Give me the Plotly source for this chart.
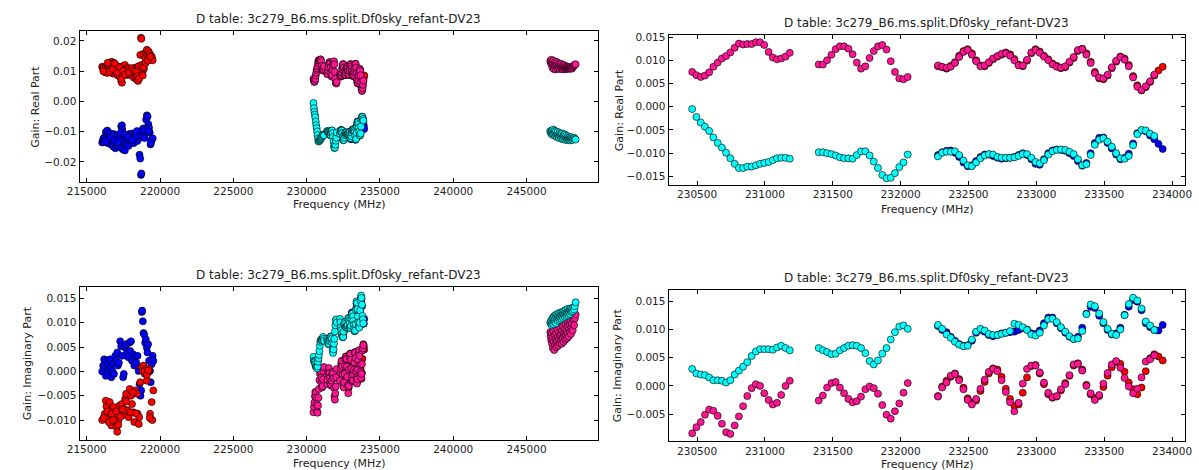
import plotly.graph_objects as go

TITLE = "D table: 3c279_B6.ms.split.Df0sky_refant-DV23"

# ---------------- spw at 230.5-234 GHz (shown in all four panels) ----------------
freq_a = [230464, 230495, 230527, 230558, 230589, 230620, 230652, 230683, 230714, 230745,
          230777, 230808, 230839, 230870, 230902, 230933, 230964, 230995, 231027, 231058,
          231089, 231120, 231152, 231183]
freq_b = [231396, 231427, 231458, 231490, 231521, 231552, 231583, 231615, 231646, 231677,
          231708, 231740, 231771, 231802, 231833, 231865, 231896, 231927, 231958, 231990,
          232021, 232052]
freq_c = [232275, 232306, 232338, 232369, 232400, 232431, 232463, 232494, 232525, 232556,
          232588, 232619, 232650, 232681, 232713, 232744, 232775, 232806, 232838, 232869,
          232900, 232931, 232963, 232994, 233025, 233056, 233088, 233119, 233150, 233181,
          233213, 233244, 233275, 233306, 233338, 233369, 233400, 233431, 233463, 233494,
          233525, 233556, 233588, 233619, 233650, 233681, 233713, 233744, 233775, 233806,
          233838, 233869, 233900, 233931]

pink_real_a = [.0075, .0068, .0064, .0067, .0074, .0086, .0095, .0104, .0109, .0117, .0127, .0136,
               .0134, .0135, .0135, .0139, .0139, .0133, .0118, .0106, .0102, .0104, .0108, .0116]
cyan_real_a = [-.0005, -.0022, -.0034, -.0043, -.0052, -.0066, -.0078, -.0088, -.0099, -.0111,
               -.0123, -.0132, -.0132, -.0129, -.0129, -.0126, -.0123, -.0121, -.0119, -.0115,
               -.0111, -.0110, -.0110, -.0112]
pink_real_b = [.0091, .0091, .0100, .0112, .0124, .0130, .0130, .0125, .0113, .0095, .0082,
               .0087, .0105, .0120, .0130, .0133, .0123, .0098, .0075, .0061, .0059, .0064]
cyan_real_b = [-.0098, -.0098, -.0100, -.0102, -.0105, -.0109, -.0111, -.0111, -.0112, -.0104,
               -.0096, -.0096, -.0105, -.0118, -.0132, -.0147, -.0154, -.0153, -.0143, -.0130,
               -.0120, -.0103]
pink_real_c = [.0089, .0086, .0084, .0086, .0094, .0107, .0118, .0122, .0112, .0098,
               .0087, .0089, .0096, .0104, .0109, .0114, .0115, .0110, .0100, .0089,
               .0089, .0101, .0117, .0122, .0116, .0108, .0100, .0091, .0086, .0084,
               .0087, .0097, .0107, .0122, .0124, .0112, .0094, .0072, .0063, .0061,
               .0069, .0085, .0099, .0107, .0101, .0087, .0063, .0043, .0036, .0044,
               .0055, .0069]
red_real_c = [.0087, .0085, .0082, .0088, .0096, .0110, .0120, .0124, .0115, .0100,
              .0089, .0087, .0094, .0102, .0108, .0112, .0117, .0113, .0103, .0091,
              .0087, .0099, .0115, .0124, .0119, .0110, .0102, .0093, .0088, .0083,
              .0085, .0095, .0105, .0120, .0125, .0115, .0097, .0075, .0061, .0059,
              .0067, .0083, .0097, .0108, .0104, .0090, .0066, .0046, .0035, .0042,
              .0053, .0067, .0078, .0086]
cyan_real_c = [-.0107, -.0099, -.0097, -.0097, -.0096, -.0104, -.0116, -.0126, -.0128, -.0120,
               -.0111, -.0105, -.0102, -.0103, -.0108, -.0110, -.0110, -.0110, -.0109, -.0106,
               -.0102, -.0102, -.0110, -.0119, -.0122, -.0115, -.0103, -.0096, -.0093, -.0092,
               -.0093, -.0097, -.0102, -.0113, -.0126, -.0124, -.0104, -.0082, -.0071, -.0068,
               -.0075, -.0086, -.0100, -.0111, -.0112, -.0106, -.0083, -.0059, -.0050, -.0051,
               -.0058, -.0063]
blue_real_c = [-.0104, -.0098, -.0095, -.0094, -.0099, -.0108, -.0120, -.0128, -.0126, -.0117,
               -.0108, -.0103, -.0103, -.0106, -.0110, -.0112, -.0111, -.0110, -.0108, -.0104,
               -.0100, -.0104, -.0113, -.0123, -.0125, -.0113, -.0100, -.0094, -.0092, -.0093,
               -.0095, -.0100, -.0106, -.0117, -.0127, -.0121, -.0100, -.0078, -.0067, -.0066,
               -.0078, -.0090, -.0103, -.0113, -.0110, -.0101, -.0079, -.0057, -.0051, -.0053,
               -.0062, -.0070, -.0080, -.0091]

cyan_imag_a = [.0030, .0022, .0020, .0019, .0015, .0010, .0010, .0009, .0006, .0010, .0020, .0027,
               .0034, .0042, .0053, .0061, .0065, .0065, .0065, .0064, .0068, .0071, .0067, .0063]
pink_imag_a = [-.0084, -.0073, -.0064, -.0051, -.0042, -.0044, -.0053, -.0067, -.0082, -.0085,
               -.0070, -.0054, -.0036, -.0018, -.0004, .0003, .0000, -.0013, -.0025, -.0033,
               -.0030, -.0016, .0000, .0009]
cyan_imag_b = [.0067, .0063, .0060, .0056, .0057, .0063, .0067, .0071, .0072, .0071, .0067,
               .0058, .0044, .0038, .0045, .0057, .0067, .0082, .0095, .0105, .0107, .0101]
pink_imag_b = [-.0026, -.0017, -.0003, .0005, .0007, -.0003, -.0013, -.0023, -.0029, -.0027,
               -.0019, -.0006, -.0001, -.0004, -.0014, -.0034, -.0051, -.0058, -.0045, -.0031,
               -.0012, .0005]
cyan_imag_c = [.0108, .0101, .0091, .0085, .0078, .0073, .0070, .0071, .0082, .0096,
               .0101, .0098, .0092, .0090, .0090, .0092, .0094, .0097, .0110, .0108,
               .0104, .0099, .0091, .0089, .0094, .0107, .0118, .0119, .0113, .0104,
               .0096, .0088, .0083, .0084, .0097, .0127, .0144, .0141, .0128, .0113,
               .0101, .0092, .0090, .0100, .0125, .0145, .0156, .0151, .0137, .0114,
               .0107, .0099]
blue_imag_c = [.0106, .0099, .0095, .0087, .0080, .0074, .0071, .0072, .0080, .0094,
               .0099, .0096, .0090, .0088, .0090, .0093, .0094, .0095, .0096, .0099,
               .0102, .0100, .0093, .0092, .0098, .0111, .0121, .0121, .0111, .0102,
               .0094, .0087, .0083, .0087, .0103, .0128, .0140, .0138, .0124, .0111,
               .0099, .0091, .0093, .0103, .0126, .0140, .0152, .0149, .0134, .0111,
               .0104, .0099, .0098, .0108]
pink_imag_c = [-.0019, -.0003, .0006, .0018, .0021, .0010, -.0006, -.0025, -.0033, -.0023,
               -.0005, .0011, .0025, .0030, .0026, .0010, -.0011, -.0029, -.0045, -.0030,
               .0004, .0030, .0036, .0036, .0024, .0006, -.0012, -.0020, -.0018, -.0006,
               .0003, .0019, .0038, .0039, .0027, .0000, -.0013, -.0025, -.0016, .0004,
               .0023, .0038, .0044, .0032, .0014, -.0001, -.0013, -.0005, .0015, .0043,
               .0047, .0054]
red_imag_c = [-.0018, -.0001, .0009, .0016, .0022, .0012, -.0003, -.0022, -.0030, -.0026,
              -.0009, .0007, .0022, .0031, .0029, .0016, -.0005, -.0023, -.0035, -.0033,
              -.0012, .0015, .0035, .0037, .0022, .0003, -.0015, -.0021, -.0019, -.0008,
              .0005, .0018, .0036, .0040, .0029, .0002, -.0015, -.0022, -.0018, -.0002,
              .0018, .0033, .0042, .0039, .0025, .0006, -.0006, -.0015, -.0003, .0026,
              .0049, .0056, .0052, .0045]

# ---------------- spw at 216-219.5 GHz (left panels only) ----------------
spw0_real_red_freq = [216050, 216100, 216150, 216200, 216250, 216300, 216350, 216400, 216450, 216500,
                      216550, 216600, 216650, 216700, 216750, 216800, 216850, 216900, 216950, 217000,
                      217050, 217100, 217150, 217200, 217250, 217300, 217350, 217400, 217450, 217500,
                      217550, 217600, 217650, 217700, 217750, 217800, 217850, 217900, 217950, 218000,
                      218050, 218100, 218150, 218200, 218250, 218300, 218350, 218400, 218450, 218500,
                      218550, 218600, 218650, 218700, 218725, 218750, 218800, 218850, 218900, 218950,
                      219000, 219050, 219100, 219150, 219200, 219250, 219300, 219350, 219400, 219450,
                      219500,
                      216125, 216425, 216575, 216775, 216925, 217075, 217225, 217375, 217475, 217625,
                      217875, 218075, 218225, 218375, 218475, 218575, 218825, 218875, 219025, 219175,
                      219325]
spw0_real_red = [.0115, .0112, .0108, .0101, .0097, .0110, .0104, .0094, .0120, .0108,
                 .0127, .0116, .0101, .0131, .0122, .0092, .0128, .0112, .0098, .0119,
                 .0104, .0087, .0110, .0097, .0082, .0114, .0068, .0062, .0091, .0117,
                 .0104, .0121, .0096, .0109, .0100, .0087, .0111, .0098, .0106, .0093,
                 .0101, .0089, .0108, .0079, .0096, .0112, .0085, .0073, .0102, .0068,
                 .0117, .0091, .0154, .0211, .0207, .0121, .0098, .0157, .0108, .0125,
                 .0143, .0162, .0171, .0155, .0167, .0149, .0158, .0141, .0151, .0145,
                 .0136,
                 .0100, .0128, .0098, .0107, .0125, .0096, .0113, .0075, .0101, .0089,
                 .0095, .0110, .0102, .0099, .0084, .0076, .0086, .0113, .0128, .0135,
                 .0148]
spw0_real_blue_freq = [216050, 216100, 216150, 216200, 216250, 216300, 216350, 216400, 216450, 216500,
                       216550, 216600, 216650, 216700, 216750, 216800, 216850, 216900, 216950, 217000,
                       217050, 217100, 217150, 217200, 217250, 217300, 217350, 217400, 217425, 217450,
                       217500, 217550, 217600, 217650, 217700, 217750, 217800, 217850, 217900, 217950,
                       218000, 218050, 218100, 218150, 218200, 218250, 218300, 218350, 218400, 218450,
                       218500, 218550, 218600, 218650, 218700, 218725, 218750, 218800, 218850, 218900,
                       218950, 219000, 219050, 219100, 219150, 219200, 219250, 219300, 219350, 219400,
                       219450, 219500,
                       216325, 216625, 216875, 217125, 217325, 217575, 217825, 218125, 218375, 218425,
                       218925, 219225, 219375]
spw0_real_blue = [-.0136, -.0128, -.0121, -.0133, -.0118, -.0101, -.0125, -.0096, -.0138, -.0110,
                  -.0131, -.0105, -.0142, -.0117, -.0127, -.0149, -.0108, -.0136, -.0155, -.0121,
                  -.0143, -.0112, -.0151, -.0130, -.0118, -.0145, -.0082, -.0079, -.0093, -.0158,
                  -.0123, -.0137, -.0162, -.0126, -.0113, -.0141, -.0131, -.0147, -.0108, -.0125,
                  -.0119, -.0133, -.0106, -.0121, -.0138, -.0111, -.0126, -.0104, -.0116, -.0131,
                  -.0109, -.0122, -.0176, -.0189, -.0243, -.0238, -.0097, -.0113, -.0089, -.0104,
                  -.0121, -.0093, -.0060, -.0046, -.0050, -.0075, -.0087, -.0103, -.0142, -.0131,
                  -.0124, -.0122,
                  -.0133, -.0121, -.0128, -.0134, -.0103, -.0109, -.0118, -.0129, -.0113, -.0098,
                  -.0095, -.0098, -.0137]

spw0_imag_red_freq = [216051, 216230, 216298, 216342, 216454, 216566, 216633, 216678, 216745, 216834,
                      216902, 216969, 217036, 217081, 217170, 217237, 217304, 217394, 217461, 217528,
                      217617, 217685, 217796, 217864, 217931, 218020, 218087, 218177, 218244, 218311,
                      218423, 218468, 218579, 218647, 218736, 218803, 218870, 218960, 219027, 219094,
                      219183, 219251, 219318, 219362, 219430, 219474, 219541,
                      216150, 216400, 216500, 216700, 216800, 217000, 217150, 217300, 217450, 217700,
                      218000, 218150, 218350, 218550, 218950, 219100, 219300, 219200]
spw0_imag_red = [-.0100, -.0087, -.0060, -.0072, -.0097, -.0063, -.0080, -.0111, -.0092, -.0073,
                 -.0104, -.0087, -.0114, -.0124, -.0100, -.0070, -.0084, -.0067, -.0090, -.0077,
                 -.0056, -.0046, -.0080, -.0094, -.0036, -.0050, -.0067, -.0084, -.0104, -.0039,
                 -.0046, -.0087, -.0094, -.0022, .0008, .0001, .0012, -.0005, .0005, -.0019,
                 -.0002, .0005, -.0087, -.0097, -.0063, -.0100, -.0039,
                 -.0095, -.0082, -.0104, -.0087, -.0100, -.0082, -.0110, -.0093, -.0078, -.0062,
                 -.0084, -.0043, -.0086, -.0108, .0000, -.0007, -.0095, .0002]
spw0_imag_blue_freq = [216051, 216118, 216186, 216230, 216298, 216342, 216410, 216454, 216521, 216588,
                       216633, 216678, 216745, 216790, 216857, 216946, 217013, 217081, 217125, 217192,
                       217282, 217349, 217416, 217483, 217528, 217617, 217685, 217752, 217841, 217908,
                       217975, 218020, 218087, 218177, 218244, 218311, 218378, 218468, 218535, 218602,
                       218669, 218714, 218758, 218781, 218825, 218870, 218915, 218982, 219027, 219094,
                       219139, 219183, 219251, 219318, 219362, 219430, 219497, 219541]
spw0_imag_blue = [.0000, .0012, .0025, .0008, -.0009, .0022, .0001, .0015, -.0005, .0025,
                  .0007, -.0012, .0001, .0016, -.0005, .0032, .0022, .0039, .0012, .0018,
                  .0062, .0052, .0032, -.0012, -.0005, .0049, .0056, .0039, .0029, .0059,
                  .0042, .0062, .0022, .0035, .0012, .0029, .0018, .0032, .0001, -.0026,
                  -.0050, -.0039, .0122, .0125, .0103, .0079, .0076, .0059, .0066, .0049,
                  .0039, .0056, .0022, .0001, -.0022, .0015, .0032, .0022]

# ---------------- spw at 246.6-248.4 GHz (left panels only) ----------------
spw3_freq = [246620, 246650, 246680, 246710, 246740, 246770, 246800, 246830, 246860, 246890,
             246920, 246950, 246980, 247010, 247040, 247070, 247100, 247130, 247160, 247190,
             247220, 247250, 247280, 247310, 247340, 247370, 247400, 247430, 247460, 247490,
             247520, 247550, 247580, 247610, 247640, 247670, 247700, 247730, 247760, 247790,
             247820, 247850, 247880, 247910, 247940, 247970, 248000, 248030, 248060, 248100,
             248150, 248200, 248250, 248300, 248350]
spw3_real_pink = [.0134, .0129, .0138, .0122, .0131, .0112, .0126, .0135, .0107, .0120,
                  .0129, .0115, .0106, .0124, .0131, .0113, .0119, .0108, .0127, .0116,
                  .0110, .0122, .0107, .0118, .0125, .0112, .0108, .0119, .0114, .0106,
                  .0121, .0111, .0116, .0108, .0118, .0110, .0114, .0107, .0113, .0109,
                  .0115, .0108, .0112, .0110, .0114, .0109, .0112, .0108, .0111, .0109,
                  .0113, .0116, .0119, .0122, .0123]
spw3_real_cyan = [-.0098, -.0103, -.0100, -.0108, -.0096, -.0105, -.0111, -.0093, -.0102, -.0109,
                  -.0097, -.0114, -.0104, -.0099, -.0112, -.0118, -.0106, -.0101, -.0115, -.0109,
                  -.0121, -.0104, -.0112, -.0117, -.0108, -.0123, -.0113, -.0106, -.0119, -.0125,
                  -.0111, -.0116, -.0122, -.0109, -.0127, -.0118, -.0113, -.0124, -.0120, -.0128,
                  -.0115, -.0122, -.0126, -.0119, -.0124, -.0129, -.0121, -.0125, -.0118, -.0123,
                  -.0127, -.0122, -.0120, -.0124, -.0126]
spw3_imag_cyan = [.0101, .0098, .0104, .0095, .0107, .0100, .0111, .0097, .0106, .0114,
                  .0102, .0109, .0116, .0099, .0112, .0107, .0118, .0104, .0113, .0109,
                  .0120, .0106, .0115, .0111, .0121, .0108, .0117, .0113, .0123, .0110,
                  .0119, .0115, .0125, .0112, .0121, .0117, .0127, .0114, .0122, .0119,
                  .0129, .0116, .0124, .0121, .0127, .0118, .0125, .0130, .0122, .0128,
                  .0124, .0131, .0127, .0134, .0142]
spw3_imag_pink = [.0081, .0072, .0064, .0078, .0057, .0069, .0048, .0083, .0061, .0044,
                  .0074, .0055, .0067, .0079, .0050, .0062, .0086, .0071, .0053, .0066,
                  .0080, .0058, .0073, .0089, .0063, .0076, .0057, .0084, .0069, .0092,
                  .0061, .0078, .0072, .0088, .0065, .0097, .0075, .0083, .0068, .0093,
                  .0079, .0101, .0072, .0087, .0096, .0081, .0104, .0077, .0091, .0099,
                  .0084, .0106, .0095, .0109, .0117]

# ---------------- axes ----------------
left_xticks = [215000, 220000, 225000, 230000, 235000, 240000, 245000]
right_xticks = [230500, 231000, 231500, 232000, 232500, 233000, 233500, 234000]
real_left_yticks = [-0.02, -0.01, 0.0, 0.01, 0.02]
real_left_ylabels = ["\u22120.02", "\u22120.01", "0.00", "0.01", "0.02"]
real_right_yticks = [-0.015, -0.010, -0.005, 0.0, 0.005, 0.010, 0.015]
real_right_ylabels = ["\u22120.015", "\u22120.010", "\u22120.005", "0.000", "0.005", "0.010", "0.015"]
imag_left_yticks = [-0.010, -0.005, 0.0, 0.005, 0.010, 0.015]
imag_left_ylabels = ["\u22120.010", "\u22120.005", "0.000", "0.005", "0.010", "0.015"]
imag_right_yticks = [-0.005, 0.0, 0.005, 0.010, 0.015]
imag_right_ylabels = ["\u22120.005", "0.000", "0.005", "0.010", "0.015"]

RED, BLUE, PINK, CYAN = "#ff0000", "#0000ff", "#ff1493", "#00ffff"
W, H = 1199, 470
FONT = "DejaVu Sans"


def px(x):
    return x / W


def py(y):
    return 1 - y / H


fig = go.Figure()


def add(xs, ys, color, n):
    fig.add_trace(go.Scatter(
        x=xs, y=ys, mode="markers", showlegend=False, hoverinfo="skip",
        marker=dict(color=color, size=7, line=dict(color="rgba(0,0,0,0.9)", width=0.7)),
        xaxis="x" if n == 1 else "x%d" % n, yaxis="y" if n == 1 else "y%d" % n))


pink_real_all = pink_real_a + pink_real_b + pink_real_c
cyan_real_all = cyan_real_a + cyan_real_b + cyan_real_c
pink_imag_all = pink_imag_a + pink_imag_b + pink_imag_c
cyan_imag_all = cyan_imag_a + cyan_imag_b + cyan_imag_c
fpc_real = freq_a + freq_b + freq_c[:len(pink_real_c)]
fpc_imag = freq_a + freq_b + freq_c[:len(pink_imag_c)]

# panel 1: real, full band
add(spw0_real_red_freq, spw0_real_red, RED, 1)
add(spw0_real_blue_freq, spw0_real_blue, BLUE, 1)
add(freq_c, red_real_c, RED, 1)
add(freq_c, blue_real_c, BLUE, 1)
add(fpc_real, pink_real_all, PINK, 1)
add(fpc_real, cyan_real_all, CYAN, 1)
add(spw3_freq, spw3_real_pink, PINK, 1)
add(spw3_freq, spw3_real_cyan, CYAN, 1)
# panel 2: real, zoom
add(freq_c, red_real_c, RED, 2)
add(freq_c, blue_real_c, BLUE, 2)
add(fpc_real, pink_real_all, PINK, 2)
add(fpc_real, cyan_real_all, CYAN, 2)
# panel 3: imag, full band
add(spw0_imag_blue_freq, spw0_imag_blue, BLUE, 3)
add(spw0_imag_red_freq, spw0_imag_red, RED, 3)
add(freq_c, red_imag_c, RED, 3)
add(freq_c, blue_imag_c, BLUE, 3)
add(fpc_imag, pink_imag_all, PINK, 3)
add(fpc_imag, cyan_imag_all, CYAN, 3)
add(spw3_freq, spw3_imag_pink, PINK, 3)
add(spw3_freq, spw3_imag_cyan, CYAN, 3)
# panel 4: imag, zoom
add(freq_c, red_imag_c, RED, 4)
add(freq_c, blue_imag_c, BLUE, 4)
add(fpc_imag, pink_imag_all, PINK, 4)
add(fpc_imag, cyan_imag_all, CYAN, 4)

common = dict(showline=True, linecolor="black", linewidth=1, mirror="ticks", ticks="inside",
              ticklen=4, tickwidth=1, tickcolor="black", showgrid=False, zeroline=False,
              tickfont=dict(family=FONT, size=10.5, color="#222222"))

panels = {
    1: dict(xd=(67.7, 595), yd=(27.3, 179.3), xr=(214510, 249880), yr=(-0.02656, 0.02328),
            xt=left_xticks, yt=real_left_yticks, yl=real_left_ylabels),
    2: dict(xd=(666.7, 1191.7), yd=(31, 182.3), xr=(230290, 234094), yr=(-0.0168, 0.0155),
            xt=right_xticks, yt=real_right_yticks, yl=real_right_ylabels),
    3: dict(xd=(67.7, 595), yd=(285.7, 439.3), xr=(214510, 249880), yr=(-0.0140, 0.0173),
            xt=left_xticks, yt=imag_left_yticks, yl=imag_left_ylabels),
    4: dict(xd=(666.7, 1191.7), yd=(288.3, 441), xr=(230290, 234094), yr=(-0.0098, 0.0170),
            xt=right_xticks, yt=imag_right_yticks, yl=imag_right_ylabels),
}

layout = dict(width=W, height=H, margin=dict(l=0, r=0, t=0, b=0),
              paper_bgcolor="white", plot_bgcolor="white", showlegend=False)
for n, p in panels.items():
    sx = "" if n == 1 else str(n)
    layout["xaxis" + sx] = dict(common, domain=[px(p["xd"][0]), px(p["xd"][1])], range=list(p["xr"]),
                                tickvals=p["xt"], ticktext=[str(v) for v in p["xt"]],
                                anchor="y" + sx)
    layout["yaxis" + sx] = dict(common, domain=[py(p["yd"][1]), py(p["yd"][0])], range=list(p["yr"]),
                                tickvals=p["yt"], ticktext=p["yl"], anchor="x" + sx)
fig.update_layout(**layout)

ann = []
label_font = dict(family=FONT, size=11, color="#222222")
title_font = dict(family=FONT, size=12, color="#222222")
for (cx, ty, xly) in [(331.4, 15, 202), (929.2, 19, 207), (331.4, 273.3, 463), (929.2, 276.7, 464)]:
    ann.append(dict(x=px(cx), y=py(ty), xref="paper", yref="paper", text=TITLE, showarrow=False,
                    font=title_font, xanchor="center", yanchor="middle"))
    ann.append(dict(x=px(cx), y=py(xly), xref="paper", yref="paper", text="Frequency (MHz)",
                    showarrow=False, font=label_font, xanchor="center", yanchor="middle"))
for (ylx, y0, y1, ylab) in [(22.7, 27.3, 179.3, "Gain: Real Part"), (616.7, 31, 182.3, "Gain: Real Part"),
                            (15, 285.7, 439.3, "Gain: Imaginary Part"), (615, 288.3, 441, "Gain: Imaginary Part")]:
    ann.append(dict(x=px(ylx), y=py((y0 + y1) / 2), xref="paper", yref="paper", text=ylab,
                    showarrow=False, font=label_font, textangle=-90, xanchor="center", yanchor="middle"))
fig.update_layout(annotations=ann)

fig.write_html("out.html")
